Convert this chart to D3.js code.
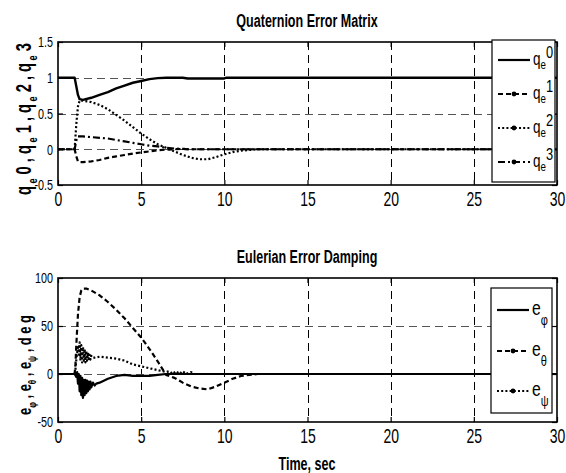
<!DOCTYPE html>
<html><head><meta charset="utf-8">
<script src="https://cdn.jsdelivr.net/npm/d3@7"></script>
<style>
html,body{margin:0;padding:0;background:#fff;}
svg{display:block;}
text{font-family:'Liberation Sans', Arial, sans-serif;fill:#000;}
</style></head><body>
<svg id="c" width="566" height="473"></svg>
<script>
// ---------- data ----------
const xTicks = [0, 5, 10, 15, 20, 25, 30];
const qTicks = [-0.5, 0, 0.5, 1, 1.5];
const eTicks = [-50, 0, 50, 100];

const qTime = [0, 1.0, 1.1, 1.2, 1.3, 1.5, 2, 2.5, 3, 3.5, 4, 4.5, 5, 5.5, 6, 6.5, 7, 7.5, 7.8, 8, 8.5, 9, 9.5, 10, 10.1, 10.5, 11, 11.5, 12, 13, 15, 20, 25, 30];
const q0 = [1, 1, 0.88, 0.76, 0.70, 0.69, 0.72, 0.76, 0.80, 0.85, 0.89, 0.93, 0.955, 0.98, 0.995, 1.0, 1.0, 1.0, 0.99, 0.99, 0.99, 0.99, 0.99, 0.99, 1.0, 1, 1, 1, 1, 1, 1, 1, 1, 1];
const q1 = [0, 0, -0.10, -0.17, -0.18, -0.18, -0.17, -0.15, -0.12, -0.10, -0.08, -0.06, -0.045, -0.03, -0.015, -0.005, 0, 0.005, 0, 0, 0, 0, 0, 0, 0, 0, 0, 0, 0, 0, 0, 0, 0, 0];
const q2 = [0, 0, 0.35, 0.60, 0.68, 0.68, 0.66, 0.62, 0.56, 0.48, 0.40, 0.31, 0.22, 0.14, 0.07, 0.02, -0.03, -0.08, -0.10, -0.12, -0.14, -0.14, -0.11, -0.07, -0.065, -0.04, -0.02, -0.01, 0, 0, 0, 0, 0, 0];
const q3 = [0, 0, 0.12, 0.18, 0.18, 0.18, 0.17, 0.16, 0.15, 0.13, 0.11, 0.09, 0.07, 0.05, 0.04, 0.02, 0.01, 0.005, 0, 0, 0, 0, 0, 0, 0, 0, 0, 0, 0, 0, 0, 0, 0, 0];

const thetaTime = [0, 1.0, 1.05, 1.1, 1.2, 1.3, 1.4, 1.5, 1.7, 2, 2.5, 3, 3.5, 4, 4.5, 5, 5.5, 6, 6.5, 7, 7.5, 8, 8.5, 9, 9.5, 10, 10.5, 11, 11.5, 12, 13, 15, 20, 25, 30];
const eTheta = [0, 0, 10, 30, 62, 80, 87, 89, 89, 87, 82, 75, 67, 58, 48, 38, 26, 13, -1, -4, -9, -13, -15, -16, -13, -9, -5, -2, -1, 0, 0, 0, 0, 0, 0];

const phiTime = [0, 1.0, 1.1, 1.15, 1.2, 1.25, 1.3, 1.35, 1.4, 1.45, 1.5, 1.55, 1.6, 1.65, 1.7, 1.75, 1.8, 1.85, 1.9, 1.95, 2.0, 2.1, 2.2, 2.3, 2.5, 3, 3.5, 4, 4.5, 5, 5.5, 6, 6.5, 7, 30];
const ePhi = [0, 0, -3, 2, -10, 0, -18, -2, -22, -4, -25, -6, -22, -6, -20, -7, -18, -8, -16, -8, -14, -9, -12, -10, -9, -5, -2, -1, -2, -2, -2, -1, 0, 0, 0];

const psiTime = [0, 1.0, 1.05, 1.1, 1.15, 1.2, 1.25, 1.3, 1.35, 1.4, 1.45, 1.5, 1.55, 1.6, 1.65, 1.7, 1.75, 1.8, 1.85, 1.9, 1.95, 2.0, 2.1, 2.2, 2.5, 3, 3.5, 4, 4.5, 5, 5.5, 6, 6.5, 6.7, 6.9, 7.1, 7.3, 7.5, 7.7, 8, 8.2, 30];
const ePsi = [0, 0, 5, 15, 22, 28, 18, 33, 14, 30, 12, 28, 14, 26, 12, 24, 14, 22, 14, 20, 15, 19, 17, 17, 18, 17, 16, 14, 10, 8, 6, 4, 2, 3, 0, 3, 0, 3, 0, 2, 0, 0];

const qNames = ['0', '1', '2', '3'];
const eNames = ['\u03C6', '\u03B8', '\u03C8'];

// ---------- drawing ----------
const svg = d3.select('#c');
const dashes = [null, '5,3', '2,2.2', '7,3,2,3'];

function panel(box, yDomain, yTicks) {
  const x = d3.scaleLinear().domain([0, 30]).range([box.l, box.r]);
  const y = d3.scaleLinear().domain(yDomain).range([box.b, box.t]);
  const g = svg.append('g');
  g.append('g').selectAll('line').data(xTicks.slice(1, -1)).join('line')
    .attr('x1', d => Math.round(x(d)) + 0.5).attr('x2', d => Math.round(x(d)) + 0.5).attr('y1', box.t).attr('y2', box.b)
    .attr('stroke', '#000').attr('stroke-width', 1).attr('stroke-dasharray', '8,5');
  g.append('g').selectAll('line').data(yTicks.slice(1, -1)).join('line')
    .attr('y1', d => Math.round(y(d)) + 0.5).attr('y2', d => Math.round(y(d)) + 0.5).attr('x1', box.l).attr('x2', box.r)
    .attr('stroke', '#555').attr('stroke-width', 1).attr('stroke-dasharray', '8,5');
  const lines = g.append('g');
  const axes = g.append('g');
  const fmt = d => String(d);
  const b = axes.append('g').attr('transform', `translate(0,${box.b})`)
    .call(d3.axisBottom(x).tickValues(xTicks).tickSize(-5).tickPadding(7).tickFormat(fmt));
  b.selectAll('text').attr('font-size', 20).attr('transform', 'scale(0.7,1)');
  axes.append('g').attr('transform', `translate(0,${box.t})`)
    .call(d3.axisTop(x).tickValues(xTicks).tickSize(-5).tickFormat(''));
  const l = axes.append('g').attr('transform', `translate(${box.l},0)`)
    .call(d3.axisLeft(y).tickValues(yTicks).tickSize(-5).tickPadding(7).tickFormat(fmt));
  l.selectAll('text').attr('font-size', 15).attr('transform', 'scale(0.72,1)');
  axes.append('g').attr('transform', `translate(${box.r},0)`)
    .call(d3.axisRight(y).tickValues(yTicks).tickSize(-5).tickFormat(''));
  axes.selectAll('.domain').remove();
  axes.selectAll('.tick line').attr('stroke', '#000').attr('stroke-width', 1.2);
  axes.append('rect').attr('x', box.l).attr('y', box.t).attr('width', box.r - box.l).attr('height', box.b - box.t)
    .attr('fill', 'none').attr('stroke', '#000').attr('stroke-width', 1.6);
  return { x, y, g, lines };
}

function drawSeries(p, ts, vs, dash, w) {
  const line = d3.line().x((d, i) => p.x(ts[i])).y(d => p.y(d));
  p.lines.append('path').datum(vs).attr('d', line).attr('fill', 'none')
    .attr('stroke', '#000').attr('stroke-width', w)
    .attr('stroke-dasharray', dash).attr('stroke-linejoin', 'round');
}

function ctext(parent, x, y, str, size, weight, sx, anchor) {
  return parent.append('text').attr('transform', `translate(${x},${y}) scale(${sx},1)`)
    .attr('text-anchor', anchor || 'middle').attr('font-size', size).attr('font-weight', weight || 'normal').text(str);
}

// Top panel
const P1 = panel({ l: 58, r: 557, t: 42, b: 185 }, [-0.5, 1.5], qTicks);
[q0, q1, q2, q3].forEach((s, i) => drawSeries(P1, qTime, s, dashes[i], i === 0 ? 2.4 : 2.2));
ctext(svg, 307, 27, 'Quaternion Error Matrix', 19, 'bold', 0.66);

// Bottom panel
const P2 = panel({ l: 58, r: 557, t: 278, b: 422 }, [-50, 100], eTicks);
drawSeries(P2, phiTime, ePhi, null, 2.2);
drawSeries(P2, thetaTime, eTheta, dashes[1], 2.2);
drawSeries(P2, psiTime, ePsi, dashes[2], 2.2);
ctext(svg, 307, 263, 'Eulerian Error Damping', 19, 'bold', 0.66);
ctext(svg, 307, 470, 'Time, sec', 18.5, 'bold', 0.68);

// Y labels (rotated, fitted to length)
function yLabel(cx, cy, len, parts, size) {
  const t = svg.append('text').attr('font-size', size).attr('font-weight', 'bold');
  parts.forEach(p => {
    const ts = t.append('tspan').text(p.s);
    if (p.sub) ts.attr('font-size', size * 0.62).attr('dy', size * 0.28);
    if (p.back) ts.attr('dy', -size * 0.28);
  });
  const w = t.node().getComputedTextLength();
  t.attr('transform', `translate(${cx},${cy}) rotate(-90) scale(${len / w},1) translate(${-w / 2},0)`);
}
const qParts = [];
qNames.forEach((n, i) => {
  qParts.push({ s: 'q' }, { s: ' e', sub: true }, { s: ' ' + n + (i < 3 ? ' , ' : ''), back: true });
});
yLabel(31, 119, 152, qParts, 22);
const eParts = [];
eNames.forEach((n, i) => {
  eParts.push({ s: 'e' }, { s: n, sub: true }, { s: ' , ', back: true });
});
eParts.push({ s: 'd e g' });
yLabel(31, 365, 100, eParts, 19);

// Legends
function legend(box, names, dashList, rowsY, base, kind) {
  const g = svg.append('g');
  g.append('rect').attr('x', box.x).attr('y', box.y).attr('width', box.w).attr('height', box.h)
    .attr('fill', '#fff').attr('stroke', '#000').attr('stroke-width', 1.2);
  names.forEach((n, i) => {
    const yy = rowsY[i];
    g.append('line').attr('x1', box.x + 6).attr('x2', box.x + 38).attr('y1', yy).attr('y2', yy)
      .attr('stroke', '#000').attr('stroke-width', 2.2).attr('stroke-dasharray', dashList[i]);
    if (dashList[i]) g.append('circle').attr('cx', box.x + 22).attr('cy', yy).attr('r', 2.4).attr('fill', '#000');
    const t = g.append('text').attr('transform', `translate(${box.x + 41},${yy + 5}) scale(0.75,1)`).attr('font-size', base);
    t.append('tspan').text(kind === 'q' ? 'q' : 'e');
    if (kind === 'q') {
      t.append('tspan').attr('font-size', base * 0.72).attr('dy', 4).text('e');
      t.append('tspan').attr('font-size', base * 0.95).attr('dy', -11).text(n);
    } else {
      t.append('tspan').attr('font-size', base * 0.7).attr('dy', 10).text(n);
    }
  });
}
legend({ x: 492, y: 40, w: 63, h: 142 }, qNames, dashes, [60, 94, 128, 162], 18, 'q');
legend({ x: 491, y: 288, w: 61, h: 125 }, eNames, [null, dashes[1], dashes[2]], [310, 351, 391], 21, 'e');
</script>
</body></html>
